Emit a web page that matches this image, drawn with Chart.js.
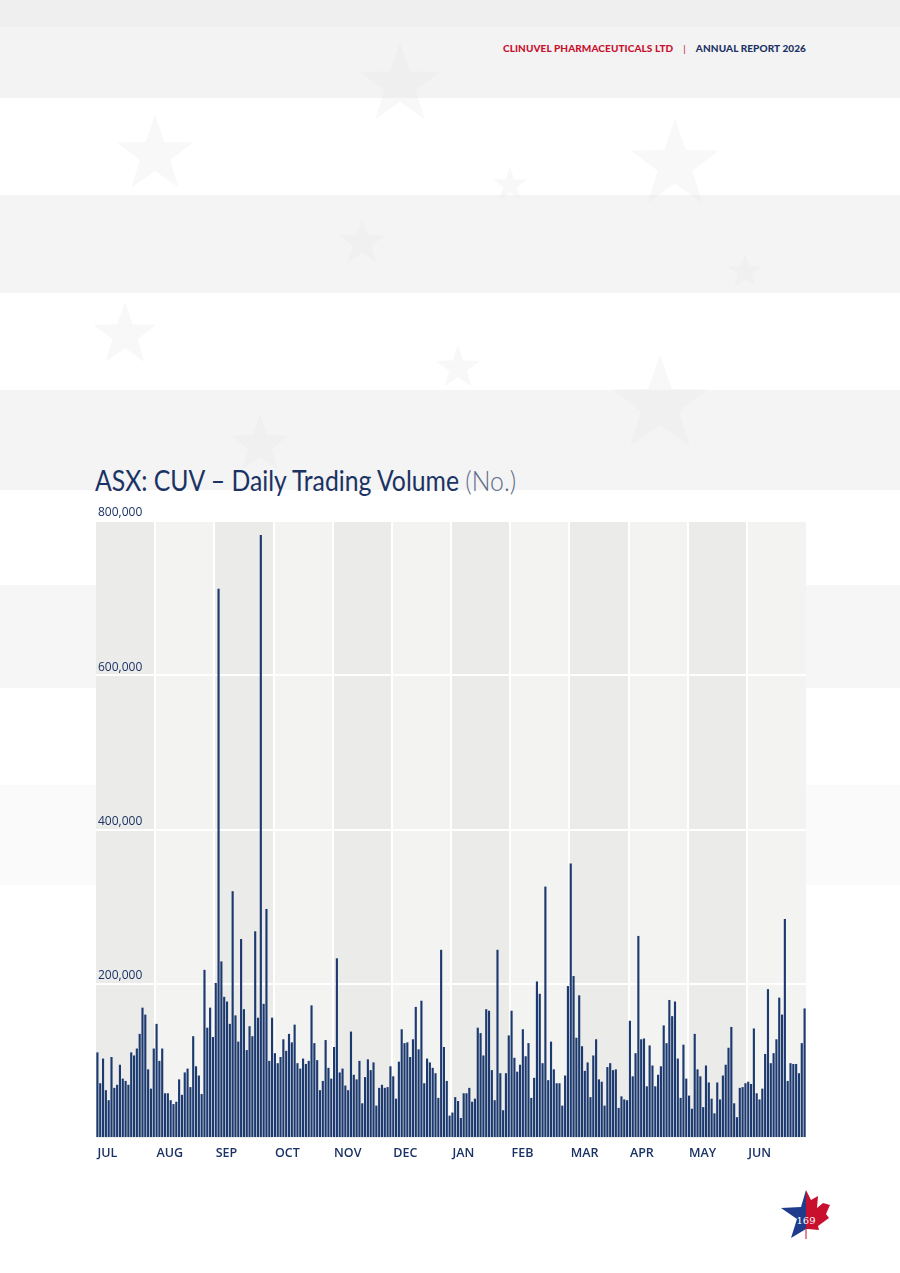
<!DOCTYPE html>
<html>
<head>
<meta charset="utf-8">
<script src="https://cdn.jsdelivr.net/npm/chart.js@4.4.1/dist/chart.umd.min.js"></script>
<style>
html, body { margin: 0; padding: 0; }
body {
    width: 900px; height: 1273px; position: relative; overflow: hidden;
    background: linear-gradient(to bottom,
        #efefef 0px, #efefef 27px,
        #f3f3f3 27px, #f3f3f3 98px,
        #ffffff 98px, #ffffff 195px,
        #f4f4f4 195px, #f4f4f4 293px,
        #ffffff 293px, #ffffff 390px,
        #f4f4f4 390px, #f4f4f4 490px,
        #ffffff 490px, #ffffff 585px,
        #f6f6f6 585px, #f6f6f6 688px,
        #ffffff 688px, #ffffff 785px,
        #fafafa 785px, #fafafa 885px,
        #ffffff 885px);
    font-family: "Open Sans", "Noto Sans", sans-serif;
}
#stars { position: absolute; left: 0; top: 0; }
.header {
    position: absolute; right: 94px; top: 42px;
    font-family: Lato, "Open Sans", sans-serif; font-weight: 900; font-size: 10px;
    letter-spacing: 0.1px; white-space: nowrap;
}
.header .red { color: #c8102e; }
.header .sep { color: #c8102e; margin: 0 10px; font-weight: 400; }
.header .blue { color: #1b3264; }
h1 {
    position: absolute; left: 95px; top: 463px; margin: 0;
    font-family: Lato, "Open Sans", sans-serif; font-weight: 400; font-size: 28px;
    color: #1b3264; white-space: nowrap;
    transform: scaleX(0.885); transform-origin: left top;
}
h1 span { font-weight: 300; color: #5d6b8a; }
#chartBox { position: absolute; left: 0; top: 500px; width: 900px; height: 680px; }
#logo { position: absolute; left: 776px; top: 1186px; }
</style>
</head>
<body>
<svg id="stars" width="900" height="600"></svg>
<div class="header"><span class="red">CLINUVEL PHARMACEUTICALS LTD</span><span class="sep">|</span><span class="blue">ANNUAL REPORT 2026</span></div>
<h1>ASX: CUV – Daily Trading Volume <span>(No.)</span></h1>
<div id="chartBox"><canvas id="volumeChart" width="900" height="680"></canvas></div>
<svg id="logo" width="60" height="60" viewBox="776 1186 60 60">
    <polygon points="806,1190 801,1207 781,1208 797,1219 791,1238 806,1229" fill="#1f3c8c"/>
    <polygon points="806,1190 811,1200 818,1196 817,1208 823,1203 830,1205 826,1214 829,1218 818,1226 819,1230 808,1229 806,1229" fill="#c8102e"/>
    <rect x="805.5" y="1228" width="1" height="11" fill="#c8102e"/>
    <text x="806" y="1224" text-anchor="middle" font-family="'DejaVu Serif', serif" font-size="10" fill="#ffffff">169</text>
</svg>

<script>
// month names and daily volume per month (shares)
const months = ['JUL', 'AUG', 'SEP', 'OCT', 'NOV', 'DEC', 'JAN', 'FEB', 'MAR', 'APR', 'MAY', 'JUN'];

const volJul = [111000, 71000, 103000, 62000, 49000, 105000, 65000, 69000, 95000, 77000, 74000, 69000, 111000, 107000, 116000, 135000, 169000, 160000, 89000, 64000, 116000];
const volAug = [148000, 100000, 116000, 58000, 58000, 49000, 44000, 47000, 76000, 56000, 85000, 90000, 66000, 132000, 93000, 81000, 57000, 218000, 143000, 169000, 131000];
const volSep = [201000, 712000, 229000, 183000, 177000, 148000, 320000, 159000, 125000, 258000, 167000, 114000, 145000, 132000, 268000, 156000, 782000, 174000, 297000, 100000, 156000];
const volOct = [110000, 97000, 105000, 128000, 113000, 135000, 124000, 147000, 97000, 90000, 103000, 96000, 100000, 172000, 123000, 101000, 62000, 74000, 127000, 91000, 77000];
const volNov = [118000, 233000, 85000, 90000, 68000, 62000, 138000, 82000, 76000, 100000, 45000, 79000, 102000, 88000, 98000, 42000, 65000, 69000, 65000, 66000, 93000];
const volDec = [80000, 51000, 99000, 141000, 123000, 124000, 105000, 128000, 170000, 115000, 178000, 71000, 103000, 98000, 91000, 84000, 52000, 244000, 118000, 74000, 29000];
const volJan = [33000, 53000, 48000, 26000, 58000, 58000, 65000, 47000, 51000, 143000, 136000, 107000, 167000, 165000, 88000, 49000, 244000, 84000, 36000, 84000, 133000];
const volFeb = [165000, 104000, 86000, 95000, 141000, 106000, 123000, 52000, 78000, 203000, 187000, 97000, 326000, 75000, 125000, 89000, 71000, 71000, 42000, 81000, 197000];
const volMar = [356000, 210000, 130000, 185000, 119000, 87000, 98000, 53000, 107000, 128000, 76000, 73000, 42000, 92000, 97000, 88000, 89000, 39000, 54000, 50000, 49000];
const volApr = [152000, 80000, 110000, 262000, 128000, 129000, 67000, 120000, 94000, 67000, 82000, 93000, 146000, 123000, 179000, 158000, 177000, 103000, 52000, 121000, 77000];
const volMay = [55000, 38000, 135000, 89000, 80000, 40000, 94000, 72000, 51000, 32000, 72000, 50000, 81000, 95000, 117000, 144000, 45000, 27000, 65000, 66000, 71000];
const volJun = [73000, 70000, 142000, 58000, 50000, 64000, 109000, 193000, 97000, 110000, 128000, 182000, 160000, 284000, 74000, 97000, 96000, 96000, 84000, 123000, 168000];

const yMax = 800000;
const yStep = 200000;

const monthVolumes = [volJul, volAug, volSep, volOct, volNov, volDec, volJan, volFeb, volMar, volApr, volMay, volJun];

// flatten into one daily series, remember where each month starts
const labels = [];
const volumes = [];
const monthStarts = [];
monthVolumes.forEach((arr, m) => {
    monthStarts.push(labels.length);
    arr.forEach((v, d) => {
        labels.push(months[m] + ' ' + (d + 1));
        volumes.push(v);
    });
});

// faint flag stars in the page background
function drawStars() {
    const svg = document.getElementById('stars');
    const spots = [[400, 85, 42], [155, 155, 40], [675, 165, 46], [510, 185, 18], [362, 243, 24],
                   [745, 272, 18], [125, 335, 33], [458, 368, 23], [660, 405, 50], [260, 445, 30]];
    spots.forEach(([cx, cy, r]) => {
        const pts = [];
        for (let i = 0; i < 10; i++) {
            const a = -Math.PI / 2 + i * Math.PI / 5;
            const rr = i % 2 ? r * 0.4 : r;
            pts.push((cx + rr * Math.cos(a)).toFixed(1) + ',' + (cy + rr * Math.sin(a)).toFixed(1));
        }
        const p = document.createElementNS('http://www.w3.org/2000/svg', 'polygon');
        p.setAttribute('points', pts.join(' '));
        p.setAttribute('fill', '#e4e4e4');
        p.setAttribute('opacity', '0.25');
        svg.appendChild(p);
    });
}
drawStars();

// alternating month backgrounds behind the bars
const monthBands = {
    id: 'monthBands',
    beforeDraw(chart) {
        const { ctx, chartArea, scales: { x } } = chart;
        ctx.save();
        monthStarts.forEach((s, i) => {
            const left = x.getPixelForValue(s - 0.5);
            const right = x.getPixelForValue(s + monthVolumes[i].length - 0.5);
            ctx.fillStyle = i % 2 ? '#f3f3f1' : '#ebebe9';
            ctx.fillRect(left, chartArea.top, right - left, chartArea.bottom - chartArea.top);
        });
        ctx.restore();
    }
};

const navy = '#1b3264';

new Chart(document.getElementById('volumeChart'), {
    type: 'bar',
    data: {
        labels: labels,
        datasets: [{
            data: volumes,
            backgroundColor: '#1c3a6f',
            barPercentage: 0.76,
            categoryPercentage: 1
        }]
    },
    options: {
        responsive: false,
        animation: false,
        layout: { padding: { left: 92, right: 94, top: 21, bottom: 11 } },
        plugins: { legend: { display: false }, tooltip: { enabled: false } },
        scales: {
            x: {
                border: { display: false },
                grid: {
                    drawTicks: false,
                    lineWidth: 2,
                    color: (c) => (c.index > 0 && monthStarts.includes(c.index)) ? '#ffffff' : 'rgba(0,0,0,0)'
                },
                ticks: {
                    autoSkip: false,
                    maxRotation: 0,
                    align: 'start',
                    padding: 8,
                    color: navy,
                    font: { family: 'Open Sans', size: 12.5, weight: '600' },
                    callback: (v, i) => {
                        const m = monthStarts.indexOf(i);
                        return m >= 0 ? months[m] : '';
                    }
                }
            },
            y: {
                min: 0,
                max: yMax,
                border: { display: false },
                grid: {
                    drawTicks: false,
                    lineWidth: 2,
                    color: (c) => c.tick.value === 0 ? 'rgba(0,0,0,0)' : '#ffffff'
                },
                ticks: {
                    stepSize: yStep,
                    mirror: true,
                    padding: 2,
                    labelOffset: -8,
                    z: 1,
                    color: navy,
                    font: { family: 'Open Sans', size: 12 },
                    callback: (v) => v === 0 ? '' : v.toLocaleString('en-US')
                }
            }
        }
    },
    plugins: [monthBands]
});
</script>
</body>
</html>
